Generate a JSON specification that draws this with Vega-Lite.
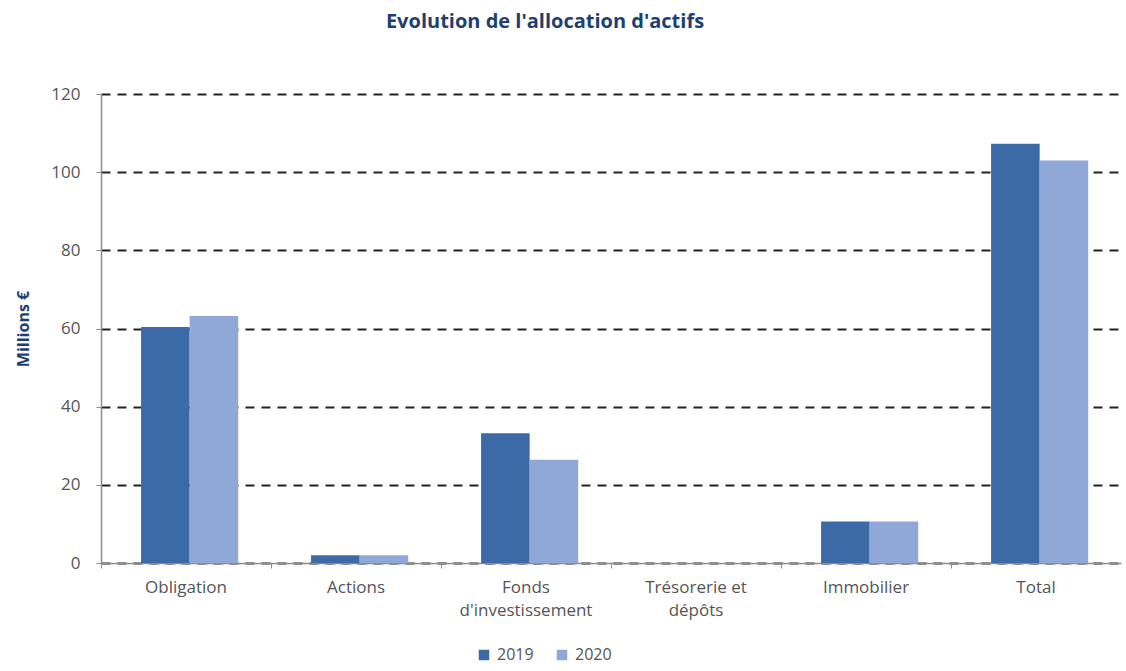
{
  "$schema": "https://vega.github.io/schema/vega-lite/v6.json",
  "autosize": {"type": "none"},
  "width": 1020,
  "height": 469,
  "padding": {"left": 101, "top": 94, "right": 5, "bottom": 108},
  "background": "white",
  "title": {
    "text": "Evolution de l'allocation d'actifs",
    "font": "Open Sans",
    "fontSize": 20,
    "fontWeight": "bold",
    "color": "#1f3f73",
    "anchor": "middle",
    "dx": -66,
    "offset": 53
  },
  "data": {
    "values": [
      {"categorie": "Obligation", "annee": "2019", "valeur": 60.4},
      {"categorie": "Obligation", "annee": "2020", "valeur": 63.2},
      {"categorie": "Actions", "annee": "2019", "valeur": 2.0},
      {"categorie": "Actions", "annee": "2020", "valeur": 2.0},
      {"categorie": "Fonds d'investissement", "annee": "2019", "valeur": 33.2},
      {"categorie": "Fonds d'investissement", "annee": "2020", "valeur": 26.4},
      {"categorie": "Trésorerie et dépôts", "annee": "2019", "valeur": 0},
      {"categorie": "Trésorerie et dépôts", "annee": "2020", "valeur": 0},
      {"categorie": "Immobilier", "annee": "2019", "valeur": 10.6},
      {"categorie": "Immobilier", "annee": "2020", "valeur": 10.6},
      {"categorie": "Total", "annee": "2019", "valeur": 107.3},
      {"categorie": "Total", "annee": "2020", "valeur": 103.0}
    ]
  },
  "mark": {"type": "bar"},
  "encoding": {
    "x": {
      "field": "categorie",
      "type": "nominal",
      "sort": null,
      "scale": {"paddingInner": 0, "paddingOuter": 0},
      "axis": {
        "title": null,
        "bandPosition": 0,
        "labelAngle": 0,
        "labelFont": "Open Sans",
        "labelFontSize": 17,
        "labelColor": "#555555",
        "labelPadding": 11,
        "labelLineHeight": 23,
        "labelBaseline": "top",
        "labelExpr": "datum.value === \"Fonds d'investissement\" ? ['Fonds', \"d'investissement\"] : datum.value === 'Trésorerie et dépôts' ? ['Trésorerie et', 'dépôts'] : datum.value",
        "domainColor": "#8c8c8c",
        "domainWidth": 1.5,
        "tickColor": "#8c8c8c",
        "tickSize": 5,
        "grid": false
      }
    },
    "xOffset": {
      "field": "annee",
      "type": "nominal",
      "scale": {"paddingInner": 0, "paddingOuter": 0.75, "align": 0.55}
    },
    "y": {
      "field": "valeur",
      "type": "quantitative",
      "scale": {"domain": [0, 120], "nice": false},
      "axis": {
        "title": "Millions €",
        "titleFont": "Open Sans",
        "titleFontSize": 16,
        "titleFontWeight": "bold",
        "titleColor": "#1f3f73",
        "titlePadding": 19,
        "values": [0, 20, 40, 60, 80, 100, 120],
        "labelFont": "Open Sans",
        "labelFontSize": 17,
        "labelColor": "#555555",
        "labelPadding": 16,
        "tickSize": 5,
        "tickColor": "#8c8c8c",
        "domainColor": "#8c8c8c",
        "domainWidth": 1.5,
        "grid": true,
        "gridColor": "#222222",
        "gridWidth": 2,
        "gridDash": [9, 7]
      }
    },
    "color": {
      "field": "annee",
      "type": "nominal",
      "scale": {"domain": ["2019", "2020"], "range": ["#3c6aa7", "#8fa8d7"]},
      "legend": {
        "title": null,
        "orient": "none",
        "legendX": 375,
        "legendY": 553,
        "direction": "horizontal",
        "symbolType": "square",
        "symbolSize": 110,
        "symbolStrokeWidth": 0,
        "labelFont": "Open Sans",
        "labelFontSize": 16,
        "labelColor": "#555555",
        "labelOffset": 5,
        "columnPadding": 20
      }
    }
  },
  "config": {
    "view": {"stroke": null}
  }
}
